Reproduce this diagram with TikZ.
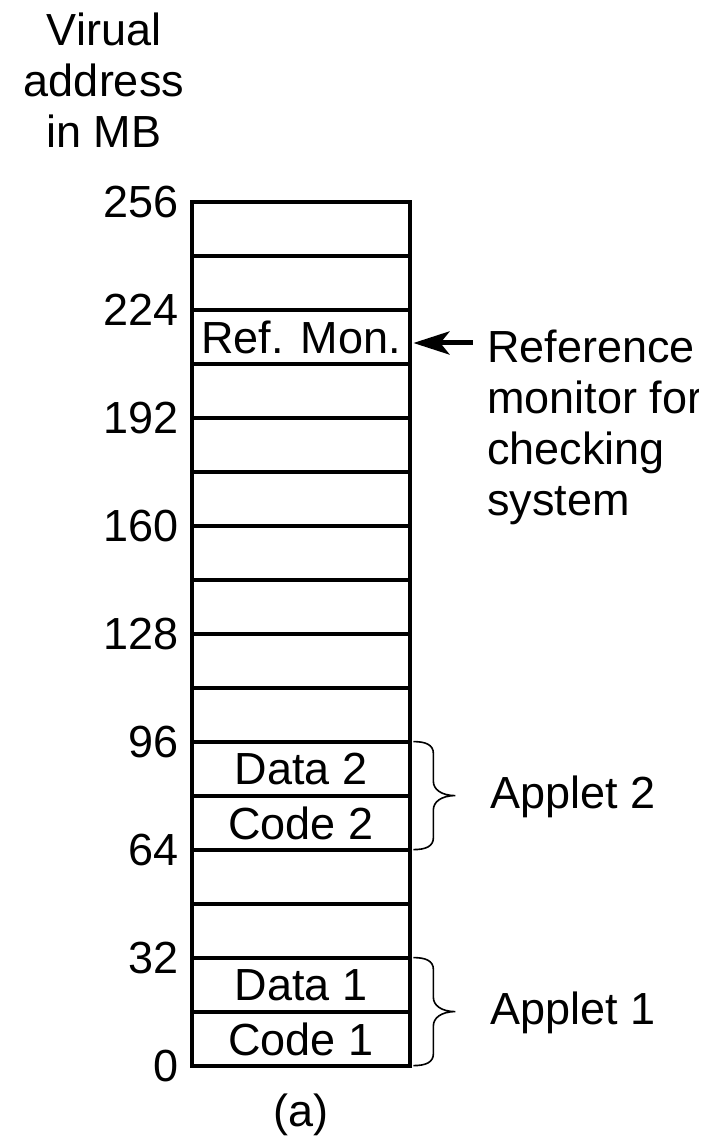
\documentclass[tikz,border=0pt]{standalone}
\usepackage{fontspec}
\setmainfont{Liberation Sans}
\usepackage{tikz}
\usetikzlibrary{positioning,arrows.meta}
\tikzstyle{num}=[anchor=east,inner sep=0]
\tikzstyle{cell}=[inner sep=0,minimum width=109pt,minimum height=27pt]
\tikzstyle{note}=[inner sep=0,align=left]
\tikzstyle{pointer}=[line width=2.5pt,-{Stealth[length=18pt,width=11.5pt,inset=4.5pt]},shorten >=1.5pt]
\tikzstyle{curly}=[line width=0.8pt]

\begin{document}
\begin{tikzpicture}[x=0.5pt,y=0.5pt,font=\fontsize{22.5}{25.5}\selectfont]
	\useasboundingbox (-192,-71) rectangle (525,1066);

                        % address scale
                        \node[inner sep=0,align=center,anchor=north] (title) at (-88, 1054) {Virual\\address\\in MB};
                        \node[num] (n256) at (-13, 864) {256};
                        \node[num] (n224) at (-13, 756) {224};
                        \node[num] (n192) at (-13, 648) {192};
                        \node[num] (n160) at (-13, 540) {160};
                        \node[num] (n128) at (-13, 432) {128};
                        \node[num] (n96) at (-13, 324) {96};
                        \node[num] (n64) at (-13, 216) {64};
                        \node[num] (n32) at (-13, 108) {32};
                        \node[num] (n0) at (-13, 0) {0};

                        % the cells
                        \node[cell] (refmon) at (109, 729) {Ref. Mon.};
                        \node[cell] (data2) at (109, 297) {Data 2};
                        \node[cell] (code2) at (109, 243) {Code 2};
                        \node[cell] (data1) at (109, 81) {Data 1};
                        \node[cell] (code1) at (109, 27) {Code 1};

                        \draw[line width=2pt] (0, 0) rectangle (218, 864);
                        \draw[line width=1.75pt]
                        (0, 54) -- (218, 54)
                        (0, 108) -- (218, 108)
                        (0, 162) -- (218, 162)
                        (0, 216) -- (218, 216)
                        (0, 270) -- (218, 270)
                        (0, 324) -- (218, 324)
                        (0, 378) -- (218, 378)
                        (0, 432) -- (218, 432)
                        (0, 486) -- (218, 486)
                        (0, 540) -- (218, 540)
                        (0, 594) -- (218, 594)
                        (0, 648) -- (218, 648)
                        (0, 702) -- (218, 702)
                        (0, 756) -- (218, 756)
                        (0, 810) -- (218, 810)
                        ;

                        % reference monitor note
                        \begin{scope}
                        \clip (285, 500) rectangle (506, 760);
                        \node[note,anchor=north west] (monnote) at (295, 736) {Reference\\monitor for\\checking\\system};
                        \end{scope}
                        \coordinate (tail) at (281, 723);
                        \draw[pointer] (tail) -- ([yshift=-3pt]refmon.east);

                        % applets
                        \draw[curly] ([xshift=1.5pt]data2.north east)
                        .. controls +(12,0) and +(0,9) .. ++(20,-12)
                        -- ++(0,-28)
                        .. controls +(0,-7) and +(-15,0) .. ++(22,-14)
                        .. controls +(-15,0) and +(0,7) .. ++(-22,-14)
                        -- ++(0,-28)
                        .. controls +(0,-9) and +(12,0) .. ++(-20,-12);
                        \draw[curly] ([xshift=1.5pt]data1.north east)
                        .. controls +(12,0) and +(0,9) .. ++(20,-12)
                        -- ++(0,-28)
                        .. controls +(0,-7) and +(-15,0) .. ++(22,-14)
                        .. controls +(-15,0) and +(0,7) .. ++(-22,-14)
                        -- ++(0,-28)
                        .. controls +(0,-9) and +(12,0) .. ++(-20,-12);
                        \node[inner sep=0,right=40pt of data2.south east] (app2) {Applet 2};
                        \node[inner sep=0,right=40pt of data1.south east] (app1) {Applet 1};

                        \node[inner sep=0,below=13.5pt of code1.south] (caption) {(a)};

    \end{tikzpicture}
\end{document}
